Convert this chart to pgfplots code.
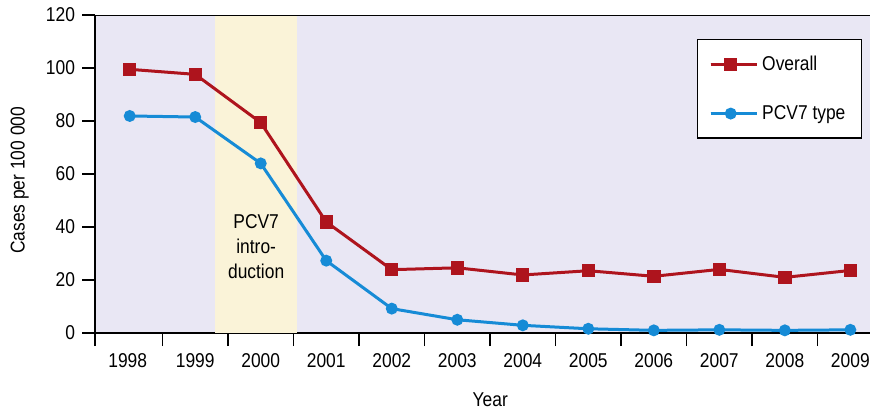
\documentclass[border=0pt]{standalone}
\usepackage{fontspec}
\setmainfont{Liberation Sans}[FakeStretch=0.87]
\usepackage{pgfplots}
\pgfplotsset{compat=1.18}
\usetikzlibrary{calc}

\definecolor{bgpurple}{HTML}{E9E7F4}
\definecolor{bandyellow}{HTML}{FAF3D8}
\definecolor{overallred}{HTML}{AE141D}
\definecolor{pcvblue}{HTML}{168BD6}

\begin{document}
\begin{tikzpicture}
\begin{axis}[
    name=ax,
    scale only axis,
    width=387.5pt, height=159pt,
    xmin=1997.47, xmax=2009.30,
    ymin=0, ymax=120,
    ytick={0,20,...,120},
    xtick={1997.47,1998.5,1999.5,2000.5,2001.5,2002.5,2003.5,2004.5,2005.5,2006.5,2007.5,2008.5},
    xticklabels={1998,1999,2000,2001,2002,2003,2004,2005,2006,2007,2008,2009},
    x tick label style={xshift=16.37pt},
    tick align=outside,
    major tick length=6.5pt,
    tick style={black, line width=0.8pt},
    axis x line*=bottom,
    axis y line*=left,
    axis line style={line width=0.9pt, -},
    axis background/.style={fill=bgpurple},
    font=\fontsize{10pt}{12pt}\selectfont,
    /pgf/number format/assume math mode=true,
    /pgf/number format/1000 sep={},
    xlabel={Year},
    ylabel={Cases per 100 000},
    xlabel style={at={(axis description cs:0.51,-0.21)}, anchor=center},
    ylabel style={at={(axis description cs:-0.097,0.48)}, anchor=center},
    legend style={at={(1,1)}, anchor=north east, xshift=-4pt, yshift=-12pt,
        draw=black, line width=0.6pt, fill=white,
        inner xsep=6pt, inner ysep=6pt, row sep=12pt,
        font=\fontsize{10pt}{12pt}\selectfont},
    legend cell align=left,
    legend image code/.code={\draw[mark repeat=2,mark phase=2] plot coordinates {(0pt,0pt)(10pt,0pt)(20pt,0pt)};
        \path (0pt,0pt) -- (23pt,0pt);},
]
\fill[bandyellow] (axis cs:1999.30,0) rectangle (axis cs:2000.56,120);
\draw[line width=0.9pt] (rel axis cs:0,1) -- (rel axis cs:1,1);

\addplot[overallred, line width=1.5pt, mark=square*, mark size=2.6pt] coordinates {
(1998,99.5) (1999,97.6) (2000,79.4) (2001,41.9) (2002,23.9) (2003,24.6)
(2004,21.9) (2005,23.5) (2006,21.4) (2007,24.0) (2008,21.0) (2009,23.6)
};
\addplot[pcvblue, line width=1.5pt, mark=*, mark size=2.2pt] coordinates {
(1998,81.9) (1999,81.5) (2000,64.0) (2001,27.3) (2002,9.2) (2003,5.0)
(2004,2.9) (2005,1.6) (2006,1.0) (2007,1.2) (2008,1.0) (2009,1.2)
};
\legend{Overall,PCV7 type}

\node[align=center, font=\fontsize{10pt}{12.5pt}\selectfont] at (axis cs:1999.93,32.5) {PCV7\\intro-\\duction};
\end{axis}
\pgfresetboundingbox
\path[use as bounding box] ($(ax.south west)+(-47.5pt,-40pt)$) rectangle ($(ax.north east)+(0,7.5pt)$);
\end{tikzpicture}
\end{document}
